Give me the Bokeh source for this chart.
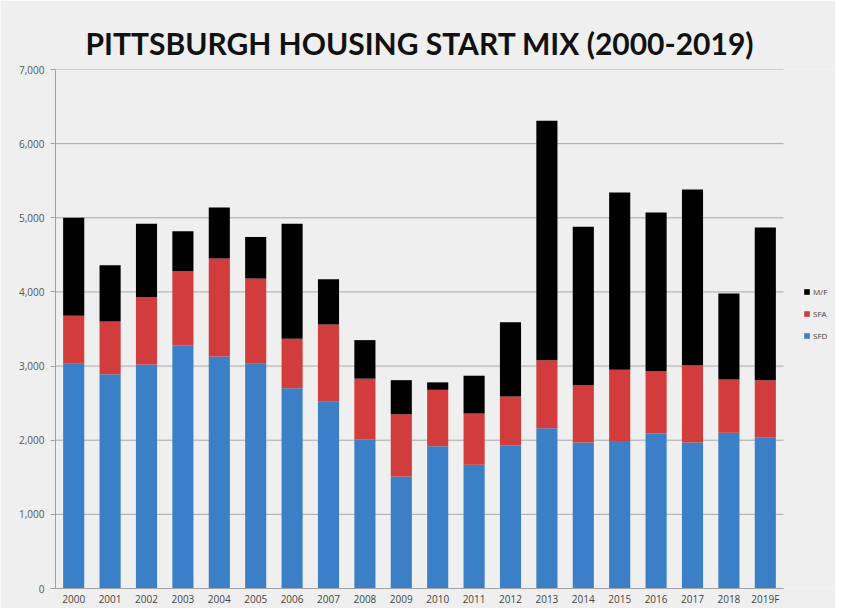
from bokeh.plotting import figure
from bokeh.models import Range1d, Legend, LegendItem, NumeralTickFormatter, FixedTicker
from bokeh.embed import file_html
from bokeh.resources import INLINE

years = ["2000", "2001", "2002", "2003", "2004", "2005", "2006", "2007", "2008", "2009",
         "2010", "2011", "2012", "2013", "2014", "2015", "2016", "2017", "2018", "2019F"]
sfd = [3030, 2890, 3020, 3280, 3130, 3030, 2700, 2520, 2010, 1510,
       1920, 1670, 1930, 2160, 1970, 1990, 2090, 1970, 2100, 2040]
sfa = [650, 710, 910, 1000, 1320, 1150, 670, 1040, 820, 840,
       760, 690, 660, 920, 770, 960, 840, 1040, 720, 770]
mf = [1320, 760, 990, 540, 690, 560, 1550, 610, 520, 460,
      100, 510, 1000, 3230, 2140, 2390, 2140, 2370, 1160, 2060]
y_ticks = [0, 1000, 2000, 3000, 4000, 5000, 6000, 7000]
title_text = "PITTSBURGH HOUSING START MIX (2000-2019)"
series = ["SFD", "SFA", "M/F"]
colors = ["#3b7fc6", "#d23c3c", "#000000"]

xs = list(range(len(years)))
data = {"x": xs, "SFD": sfd, "SFA": sfa, "M/F": mf}

FW, FH = 780, 519
n = len(years)
cat_px = 728 / n
x_end = FW / cat_px - 0.5

p = figure(x_range=Range1d(-0.5, x_end), y_range=Range1d(0, 7000),
           frame_width=FW, frame_height=FH, output_backend="svg", toolbar_location=None,
           min_border_left=55, min_border_right=0, min_border_top=69, min_border_bottom=18)

p.background_fill_color = "#efefef"
p.border_fill_color = "#efefef"
p.outline_line_color = None
p.xgrid.grid_line_color = None
p.ygrid.grid_line_color = None

# horizontal gridlines limited to the category area
p.segment(x0=[-0.5] * len(y_ticks), x1=[n - 0.5] * len(y_ticks), y0=y_ticks, y1=y_ticks,
          line_color="#a8a8a8", line_width=1)

r = p.vbar_stack(series, x="x", width=0.58, color=colors, source=data, line_color=None)

p.title.text = title_text
p.title.align = "left"
p.title.offset = 30
p.title.standoff = 18
p.title.text_font = "Lato"
p.title.text_font_size = "30px"
p.title.text_color = "#111111"
p.title.text_font_style = "bold"

p.yaxis.ticker = FixedTicker(ticks=y_ticks)
p.yaxis.formatter = NumeralTickFormatter(format="0,0")
p.yaxis.major_label_text_font_size = "10px"
p.yaxis.major_label_text_font = "Open Sans"
p.yaxis.major_label_text_color = "#555555"
p.yaxis.major_label_standoff = 6
p.yaxis.axis_line_color = "#a0a0a0"
p.yaxis.major_tick_line_color = "#a0a0a0"
p.yaxis.major_tick_out = 5
p.yaxis.major_tick_in = 0
p.yaxis.minor_tick_line_color = None

p.xaxis.ticker = FixedTicker(ticks=xs)
p.xaxis.major_label_overrides = {i: y for i, y in enumerate(years)}
p.xaxis.bounds = (-0.5, n - 0.5)
p.xaxis.major_label_text_font_size = "10px"
p.xaxis.major_label_text_font = "Open Sans"
p.xaxis.major_label_text_color = "#444444"
p.xaxis.axis_line_color = "#a0a0a0"
p.xaxis.major_tick_line_color = None
p.xaxis.minor_tick_line_color = None
p.xaxis.major_tick_out = 0
p.xaxis.major_label_standoff = 3

items = [LegendItem(label="M/F", renderers=[r[2]]),
         LegendItem(label="SFA", renderers=[r[1]]),
         LegendItem(label="SFD", renderers=[r[0]])]
legend = Legend(items=items, location=(748, 247), glyph_width=7, glyph_height=7,
                label_text_font_size="8px", label_text_font="Open Sans", label_text_color="#444444",
                spacing=11, padding=2, margin=0, background_fill_alpha=0, border_line_color=None,
                label_standoff=3, label_height=10)
p.add_layout(legend)

open("out.html", "w").write(file_html(p, INLINE))
